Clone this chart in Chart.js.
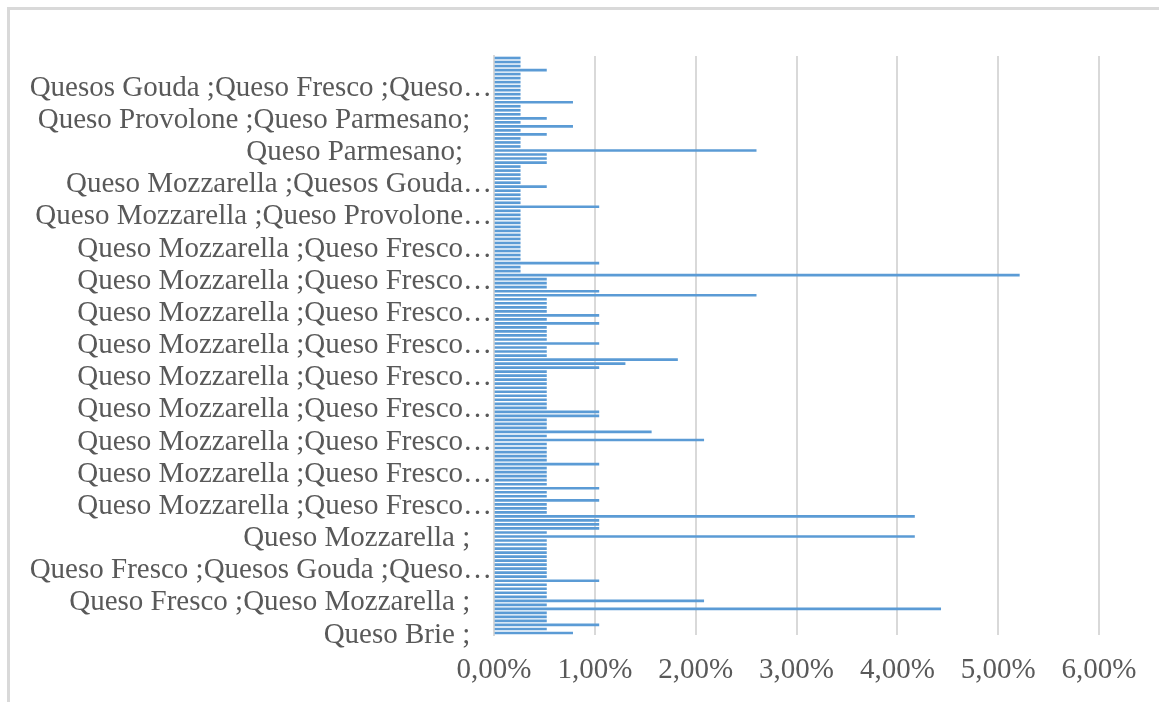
<!DOCTYPE html>
<html>
<head>
<meta charset="utf-8">
<script src="https://cdn.jsdelivr.net/npm/chart.js@4.4.0/dist/chart.umd.min.js"></script>
<style>
  html, body { margin: 0; padding: 0; background: #ffffff; }
  body { width: 1159px; height: 702px; position: relative; overflow: hidden; }
  #frame { position: absolute; left: 7px; top: 7px; width: 1300px; height: 800px;
           border-left: 3px solid #d9d9d9; border-top: 3px solid #d9d9d9; box-sizing: border-box; }
  #wrap { position: absolute; left: 0; top: 0; width: 1159px; height: 702px; }
</style>
</head>
<body>
<div id="frame"></div>
<div id="wrap"><canvas id="c" width="1159" height="702"></canvas></div>
<script>
// Categories listed top-to-bottom as they appear in the chart.
// Only every 8th label is readable in the original; hidden rows reuse their group's truncated label.
const categories = [
  "Quesos Gouda ;Queso Fresco ;Queso…","Quesos Gouda ;Queso Fresco ;Queso…","Quesos Gouda ;Queso Fresco ;Queso…","Quesos Gouda ;Queso Fresco ;Queso…","Quesos Gouda ;Queso Fresco ;Queso…","Quesos Gouda ;Queso Fresco ;Queso…","Quesos Gouda ;Queso Fresco ;Queso…","Quesos Gouda ;Queso Fresco ;Queso…",
  "Queso Provolone ;Queso Parmesano;   ","Queso Provolone ;Queso Parmesano;   ","Queso Provolone ;Queso Parmesano;   ","Queso Provolone ;Queso Parmesano;   ","Queso Provolone ;Queso Parmesano;   ","Queso Provolone ;Queso Parmesano;   ","Queso Provolone ;Queso Parmesano;   ","Queso Provolone ;Queso Parmesano;   ",
  "Queso Parmesano;    ","Queso Parmesano;    ","Queso Parmesano;    ","Queso Parmesano;    ","Queso Parmesano;    ","Queso Parmesano;    ","Queso Parmesano;    ","Queso Parmesano;    ",
  "Queso Mozzarella ;Quesos Gouda…","Queso Mozzarella ;Quesos Gouda…","Queso Mozzarella ;Quesos Gouda…","Queso Mozzarella ;Quesos Gouda…","Queso Mozzarella ;Quesos Gouda…","Queso Mozzarella ;Quesos Gouda…","Queso Mozzarella ;Quesos Gouda…","Queso Mozzarella ;Quesos Gouda…",
  "Queso Mozzarella ;Queso Provolone…","Queso Mozzarella ;Queso Provolone…","Queso Mozzarella ;Queso Provolone…","Queso Mozzarella ;Queso Provolone…","Queso Mozzarella ;Queso Provolone…","Queso Mozzarella ;Queso Provolone…","Queso Mozzarella ;Queso Provolone…","Queso Mozzarella ;Queso Provolone…",
  "Queso Mozzarella ;Queso Fresco…","Queso Mozzarella ;Queso Fresco…","Queso Mozzarella ;Queso Fresco…","Queso Mozzarella ;Queso Fresco…","Queso Mozzarella ;Queso Fresco…","Queso Mozzarella ;Queso Fresco…","Queso Mozzarella ;Queso Fresco…","Queso Mozzarella ;Queso Fresco…",
  "Queso Mozzarella ;Queso Fresco…","Queso Mozzarella ;Queso Fresco…","Queso Mozzarella ;Queso Fresco…","Queso Mozzarella ;Queso Fresco…","Queso Mozzarella ;Queso Fresco…","Queso Mozzarella ;Queso Fresco…","Queso Mozzarella ;Queso Fresco…","Queso Mozzarella ;Queso Fresco…",
  "Queso Mozzarella ;Queso Fresco…","Queso Mozzarella ;Queso Fresco…","Queso Mozzarella ;Queso Fresco…","Queso Mozzarella ;Queso Fresco…","Queso Mozzarella ;Queso Fresco…","Queso Mozzarella ;Queso Fresco…","Queso Mozzarella ;Queso Fresco…","Queso Mozzarella ;Queso Fresco…",
  "Queso Mozzarella ;Queso Fresco…","Queso Mozzarella ;Queso Fresco…","Queso Mozzarella ;Queso Fresco…","Queso Mozzarella ;Queso Fresco…","Queso Mozzarella ;Queso Fresco…","Queso Mozzarella ;Queso Fresco…","Queso Mozzarella ;Queso Fresco…","Queso Mozzarella ;Queso Fresco…",
  "Queso Mozzarella ;Queso Fresco…","Queso Mozzarella ;Queso Fresco…","Queso Mozzarella ;Queso Fresco…","Queso Mozzarella ;Queso Fresco…","Queso Mozzarella ;Queso Fresco…","Queso Mozzarella ;Queso Fresco…","Queso Mozzarella ;Queso Fresco…","Queso Mozzarella ;Queso Fresco…",
  "Queso Mozzarella ;Queso Fresco…","Queso Mozzarella ;Queso Fresco…","Queso Mozzarella ;Queso Fresco…","Queso Mozzarella ;Queso Fresco…","Queso Mozzarella ;Queso Fresco…","Queso Mozzarella ;Queso Fresco…","Queso Mozzarella ;Queso Fresco…","Queso Mozzarella ;Queso Fresco…",
  "Queso Mozzarella ;Queso Fresco…","Queso Mozzarella ;Queso Fresco…","Queso Mozzarella ;Queso Fresco…","Queso Mozzarella ;Queso Fresco…","Queso Mozzarella ;Queso Fresco…","Queso Mozzarella ;Queso Fresco…","Queso Mozzarella ;Queso Fresco…","Queso Mozzarella ;Queso Fresco…",
  "Queso Mozzarella ;Queso Fresco…","Queso Mozzarella ;Queso Fresco…","Queso Mozzarella ;Queso Fresco…","Queso Mozzarella ;Queso Fresco…","Queso Mozzarella ;Queso Fresco…","Queso Mozzarella ;Queso Fresco…","Queso Mozzarella ;Queso Fresco…","Queso Mozzarella ;Queso Fresco…",
  "Queso Mozzarella ;Queso Fresco…","Queso Mozzarella ;Queso Fresco…","Queso Mozzarella ;Queso Fresco…","Queso Mozzarella ;Queso Fresco…","Queso Mozzarella ;Queso Fresco…","Queso Mozzarella ;Queso Fresco…","Queso Mozzarella ;Queso Fresco…","Queso Mozzarella ;Queso Fresco…",
  "Queso Mozzarella ;   ","Queso Mozzarella ;   ","Queso Mozzarella ;   ","Queso Mozzarella ;   ","Queso Mozzarella ;   ","Queso Mozzarella ;   ","Queso Mozzarella ;   ","Queso Mozzarella ;   ",
  "Queso Fresco ;Quesos Gouda ;Queso…","Queso Fresco ;Quesos Gouda ;Queso…","Queso Fresco ;Quesos Gouda ;Queso…","Queso Fresco ;Quesos Gouda ;Queso…","Queso Fresco ;Quesos Gouda ;Queso…","Queso Fresco ;Quesos Gouda ;Queso…","Queso Fresco ;Quesos Gouda ;Queso…","Queso Fresco ;Quesos Gouda ;Queso…",
  "Queso Fresco ;Queso Mozzarella ;   ","Queso Fresco ;Queso Mozzarella ;   ","Queso Fresco ;Queso Mozzarella ;   ","Queso Fresco ;Queso Mozzarella ;   ","Queso Fresco ;Queso Mozzarella ;   ","Queso Fresco ;Queso Mozzarella ;   ","Queso Fresco ;Queso Mozzarella ;   ","Queso Fresco ;Queso Mozzarella ;   ",
  "Queso Brie ;   ","Queso Brie ;   ","Queso Brie ;   ","Queso Brie ;   ","Queso Brie ;   ","Queso Brie ;   ","Queso Brie ;   ","Queso Brie ;   "
];

// Percent of respondents per category, top-to-bottom.
const shares = [
  0.26,0.26,0.26,0.52,0.26,0.26,0.26,0.26,0.26,0.26,0.26,0.78,0.26,0.26,0.26,0.52,0.26,0.78,0.26,0.52,0.26,0.26,0.26,
  2.60,0.52,0.52,0.52,0.26,0.26,0.26,0.26,0.26,0.52,0.26,0.26,0.26,0.26,1.04,0.26,0.26,0.26,0.26,0.26,0.26,0.26,0.26,0.26,
  0.26,0.26,0.26,0.26,1.04,0.26,0.26,5.21,0.52,0.52,0.52,1.04,2.60,0.52,0.52,0.52,0.52,1.04,0.52,1.04,0.52,0.52,0.52,
  0.52,1.04,0.52,0.52,0.52,1.82,1.30,1.04,0.52,0.52,0.52,0.52,0.52,0.52,0.52,0.52,0.52,0.52,1.04,1.04,0.52,0.52,0.52,1.56,
  0.52,2.08,0.52,0.52,0.52,0.52,0.52,1.04,0.52,0.52,0.52,0.52,0.52,1.04,0.52,0.52,1.04,0.52,0.52,0.52,4.17,1.04,1.04,1.04,
  0.52,4.17,0.52,0.52,0.52,0.52,0.52,0.52,0.52,0.52,0.52,0.52,1.04,0.52,0.52,0.52,0.52,2.08,0.52,4.43,0.52,0.52,0.52,1.04,0.52,0.78
];

const xTicks = [0, 1, 2, 3, 4, 5, 6];
const labelEvery = 8;

const FONT = "'Liberation Serif', 'Times New Roman', serif";
const TEXT = '#595959';
const GRID = '#d9d9d9';
const BAR = '#5B9BD5';

new Chart(document.getElementById('c'), {
  type: 'bar',
  data: {
    labels: categories,
    datasets: [{
      data: shares,
      backgroundColor: BAR,
      borderWidth: 0,
      barThickness: 2
    }]
  },
  options: {
    indexAxis: 'y',
    responsive: false,
    animation: false,
    devicePixelRatio: 1,
    layout: { padding: { top: 56, right: 60, bottom: 0, left: 10 } },
    plugins: { legend: { display: false }, tooltip: { enabled: false } },
    scales: {
      x: {
        min: xTicks[0],
        max: xTicks[xTicks.length - 1],
        afterBuildTicks: (s) => { s.ticks = xTicks.map(v => ({ value: v })); },
        afterFit: (s) => { s.height = 702 - 635; },
        grid: { color: GRID, lineWidth: 2, drawTicks: false },
        border: { display: false },
        ticks: {
          maxRotation: 0,
          padding: 18,
          color: TEXT,
          font: { family: FONT, size: 29 },
          callback: (v) => Number(v).toFixed(2).replace('.', ',') + '%'
        }
      },
      y: {
        afterFit: (s) => { s.width = 494 - 10; },
        grid: { display: false, drawTicks: false },
        border: { display: true, color: GRID, width: 2 },
        ticks: {
          autoSkip: false,
          padding: 2,
          labelOffset: 2,
          color: TEXT,
          font: { family: FONT, size: 29 },
          callback: (v, i) => ((categories.length - 1 - i) % labelEvery === 0 ? categories[i] : '')
        }
      }
    }
  }
});
</script>
</body>
</html>
